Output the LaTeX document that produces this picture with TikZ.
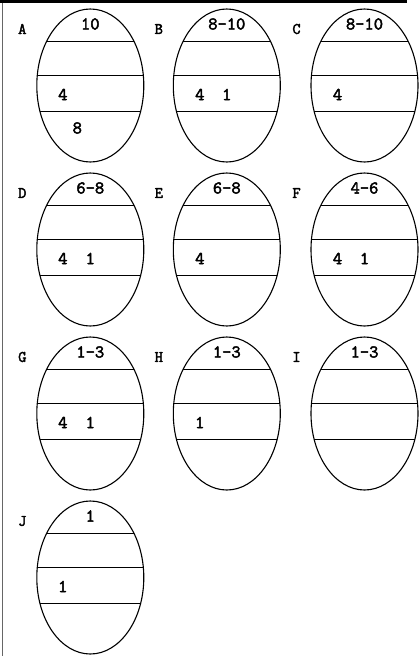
\documentclass[tikz,border=0pt]{standalone}
\usepackage{fontspec}
\setmonofont{Latin Modern Mono}[AutoFakeBold=2.6]
\usetikzlibrary{shapes.geometric}
\tikzset{
  eggshape/.style={draw, ellipse, line width=1.1pt, minimum width=107pt, minimum height=153pt, inner sep=0pt},
  chord/.style={line width=1.1pt},
  eggtag/.style={font=\fontsize{16}{16}\selectfont\ttfamily\bfseries, inner sep=0pt},
  num/.style={font=\fontsize{18}{18}\selectfont\ttfamily\bfseries, inner sep=0pt}
}
\newcommand\myegg[4]{% name, cx, top, tag
  \begin{scope}[shift={(#2,#3)}]
    \begin{scope}
      \clip (0,76.5) ellipse [x radius=53.5pt, y radius=76.5pt];
      \draw[chord] (-60,32.5) -- (60,32.5);
      \draw[chord] (-60,66.5) -- (60,66.5);
      \draw[chord] (-60,102.5) -- (60,102.5);
    \end{scope}
    \node[eggshape] (e#1) at (0,76.5) {};
    \node[eggtag] (l#1) at (-68,20) {#4};
  \end{scope}}
\begin{document}
\begin{tikzpicture}[x=1pt,y=-1pt]
\useasboundingbox (0,0) rectangle (420,656);
\fill[black] (0,0) rectangle (407,3);
\draw[black!60, line width=1pt] (2.5,3) -- (2.5,656);
\myegg{A}{90.3}{9}{A}
\myegg{B}{226.8}{9}{B}
\myegg{C}{364.5}{9}{C}
\myegg{D}{90.3}{173}{D}
\myegg{E}{226.8}{173}{E}
\myegg{F}{364.5}{173}{F}
\myegg{G}{90.3}{337}{G}
\myegg{H}{226.8}{337}{H}
\myegg{I}{364.5}{337}{I}
\myegg{J}{90.3}{501}{J}
% top texts
\node[num] (tA) at (90.3,24) {10};
\node[num] (tB) at (226.8,24) {8-10};
\node[num] (tC) at (364.5,24) {8-10};
\node[num] (tD) at (90.3,188) {6-8};
\node[num] (tE) at (226.8,188) {6-8};
\node[num] (tF) at (364.5,188) {4-6};
\node[num] (tG) at (90.3,352) {1-3};
\node[num] (tH) at (226.8,352) {1-3};
\node[num] (tI) at (364.5,352) {1-3};
\node[num] (tJ) at (90.3,516) {1};
% band texts
\node[num] (mA) at (62.8,94.5) {4};
\node[num] (bA) at (77.3,128) {8};
\node[num] (mB4) at (199.8,94.5) {4};
\node[num] (mB1) at (226.8,94.5) {1};
\node[num] (mC) at (337.5,94.5) {4};
\node[num] (mD4) at (62.8,258.5) {4};
\node[num] (mD1) at (90.3,258.5) {1};
\node[num] (mE) at (199.8,258.5) {4};
\node[num] (mF4) at (337.5,258.5) {4};
\node[num] (mF1) at (364.5,258.5) {1};
\node[num] (mG4) at (62.8,422.5) {4};
\node[num] (mG1) at (90.3,422.5) {1};
\node[num] (mH) at (199.8,422.5) {1};
\node[num] (mJ) at (62.8,586.5) {1};
\end{tikzpicture}
\end{document}
